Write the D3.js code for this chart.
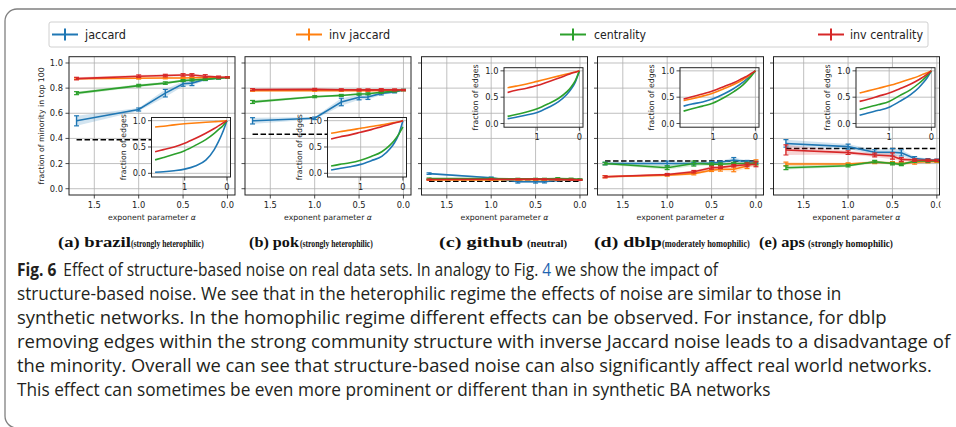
<!DOCTYPE html>
<html><head><meta charset="utf-8">
<script src="https://cdn.jsdelivr.net/npm/d3@7"></script>
<style>body{margin:0;background:#fff}svg{display:block}</style>
</head><body>
<script>
// ---------------- data ----------------
const seriesNames = ["jaccard", "inv jaccard", "centrality", "inv centrality"];
const seriesColors = ["#1f77b4", "#ff7f0e", "#2ca02c", "#d62728"];
const alphas = [1.7, 1.0, 0.7, 0.5, 0.4, 0.25, 0.1, 0.0];
const insetAlphas = [1.7, 1.5, 1.25, 1.0, 0.75, 0.5, 0.3, 0.2, 0.1, 0.0];
const xTicks = [1.5, 1.0, 0.5, 0.0];
const yTicks = [0.0, 0.2, 0.4, 0.6, 0.8, 1.0];
const insetXTicks = [1, 0];
const insetYTicks = [0.0, 0.5, 1.0];
const datasetNames = ["brazil", "pok", "github", "dblp", "aps"];
const datasetLabels = ["(a)", "(b)", "(c)", "(d)", "(e)"];
const datasetRegimes = ["(strongly heterophilic)", "(strongly heterophilic)", "(neutral)", "(moderately homophilic)", "(strongly homophilic)"];
const baselines = [0.39, 0.433, 0.06, 0.22, 0.32];

// main: fraction of minority in top 100 (jaccard, inv jaccard, centrality, inv centrality)
const brazilMain = [
  [0.54, 0.63, 0.76, 0.835, 0.84, 0.87, 0.88, 0.885],
  [0.875, 0.878, 0.88, 0.88, 0.882, 0.883, 0.884, 0.885],
  [0.76, 0.82, 0.84, 0.86, 0.865, 0.87, 0.878, 0.885],
  [0.876, 0.895, 0.90, 0.905, 0.905, 0.895, 0.888, 0.886]];
const brazilErr = [
  [0.04, 0.012, 0.03, 0.02, 0.02, 0.01, 0.008, 0.005],
  [0.006, 0.006, 0.006, 0.006, 0.006, 0.006, 0.005, 0.004],
  [0.012, 0.01, 0.01, 0.008, 0.008, 0.008, 0.006, 0.005],
  [0.01, 0.01, 0.01, 0.01, 0.01, 0.012, 0.008, 0.005]];
const pokMain = [
  [0.54, 0.56, 0.69, 0.727, 0.73, 0.758, 0.77, 0.785],
  [0.78, 0.78, 0.78, 0.78, 0.78, 0.781, 0.782, 0.783],
  [0.69, 0.732, 0.742, 0.753, 0.755, 0.767, 0.775, 0.785],
  [0.788, 0.79, 0.787, 0.786, 0.786, 0.786, 0.786, 0.785]];
const pokErr = [
  [0.025, 0.01, 0.03, 0.02, 0.02, 0.012, 0.008, 0.005],
  [0.005, 0.005, 0.005, 0.005, 0.005, 0.005, 0.005, 0.004],
  [0.012, 0.008, 0.008, 0.008, 0.008, 0.008, 0.006, 0.005],
  [0.008, 0.008, 0.008, 0.008, 0.008, 0.01, 0.008, 0.005]];
const githubMain = [
  [0.12, 0.087, 0.055, 0.055, 0.056, 0.068, 0.07, 0.07],
  [0.07, 0.07, 0.072, 0.072, 0.072, 0.072, 0.072, 0.07],
  [0.08, 0.08, 0.078, 0.078, 0.078, 0.08, 0.078, 0.075],
  [0.073, 0.075, 0.075, 0.076, 0.075, 0.074, 0.072, 0.07]];
const githubErr = [
  [0.006, 0.006, 0.01, 0.01, 0.01, 0.006, 0.005, 0.004],
  [0.004, 0.004, 0.004, 0.004, 0.004, 0.005, 0.004, 0.004],
  [0.005, 0.005, 0.005, 0.005, 0.005, 0.008, 0.006, 0.004],
  [0.004, 0.004, 0.004, 0.004, 0.004, 0.004, 0.004, 0.004]];
const dblpMain = [
  [0.20, 0.20, 0.20, 0.205, 0.21, 0.228, 0.215, 0.21],
  [0.095, 0.108, 0.12, 0.147, 0.155, 0.155, 0.18, 0.21],
  [0.2, 0.167, 0.2, 0.195, 0.195, 0.2, 0.2, 0.2],
  [0.095, 0.113, 0.135, 0.167, 0.17, 0.183, 0.19, 0.195]];
const dblpErr = [
  [0.01, 0.02, 0.01, 0.01, 0.01, 0.02, 0.01, 0.01],
  [0.008, 0.008, 0.01, 0.01, 0.015, 0.02, 0.02, 0.02],
  [0.01, 0.015, 0.02, 0.01, 0.01, 0.01, 0.01, 0.01],
  [0.008, 0.008, 0.01, 0.012, 0.01, 0.01, 0.015, 0.02]];
const apsMain = [
  [0.36, 0.335, 0.29, 0.29, 0.285, 0.24, 0.23, 0.228],
  [0.196, 0.196, 0.21, 0.205, 0.2, 0.21, 0.215, 0.215],
  [0.167, 0.183, 0.215, 0.2, 0.193, 0.22, 0.22, 0.22],
  [0.308, 0.287, 0.268, 0.26, 0.233, 0.228, 0.226, 0.225]];
const apsErr = [
  [0.03, 0.02, 0.02, 0.03, 0.025, 0.015, 0.01, 0.008],
  [0.015, 0.01, 0.01, 0.01, 0.01, 0.015, 0.01, 0.005],
  [0.015, 0.01, 0.01, 0.01, 0.01, 0.01, 0.01, 0.005],
  [0.04, 0.015, 0.015, 0.025, 0.015, 0.01, 0.01, 0.008]];

// insets: fraction of edges
const brazilInset = [
  [0.02, 0.03, 0.05, 0.08, 0.14, 0.25, 0.45, 0.6, 0.78, 1.0],
  [0.88, 0.895, 0.92, 0.94, 0.955, 0.97, 0.98, 0.985, 0.992, 1.0],
  [0.255, 0.3, 0.36, 0.43, 0.53, 0.64, 0.76, 0.83, 0.9, 1.0],
  [0.41, 0.45, 0.5, 0.57, 0.66, 0.76, 0.85, 0.9, 0.95, 1.0]];
const pokInset = [
  [0.063, 0.09, 0.125, 0.17, 0.24, 0.32, 0.47, 0.58, 0.74, 1.0],
  [0.76, 0.79, 0.82, 0.855, 0.89, 0.92, 0.95, 0.965, 0.98, 1.0],
  [0.14, 0.17, 0.2, 0.25, 0.32, 0.41, 0.54, 0.63, 0.74, 0.88],
  [0.65, 0.69, 0.73, 0.78, 0.83, 0.886, 0.93, 0.955, 0.975, 1.0]];
const githubInset = [
  [0.09, 0.12, 0.16, 0.21, 0.3, 0.41, 0.55, 0.65, 0.78, 1.0],
  [0.68, 0.71, 0.75, 0.8, 0.85, 0.9, 0.94, 0.96, 0.98, 1.0],
  [0.135, 0.17, 0.22, 0.28, 0.37, 0.475, 0.6, 0.69, 0.81, 1.0],
  [0.59, 0.63, 0.67, 0.72, 0.79, 0.86, 0.92, 0.95, 0.975, 1.0]];
const dblpInset = [
  [0.33, 0.37, 0.41, 0.47, 0.56, 0.67, 0.78, 0.85, 0.92, 1.0],
  [0.435, 0.47, 0.52, 0.58, 0.66, 0.745, 0.83, 0.88, 0.935, 1.0],
  [0.235, 0.28, 0.33, 0.39, 0.49, 0.61, 0.73, 0.81, 0.9, 1.0],
  [0.465, 0.51, 0.56, 0.62, 0.7, 0.78, 0.86, 0.9, 0.95, 1.0]];
const apsInset = [
  [0.155, 0.2, 0.25, 0.31, 0.42, 0.545, 0.68, 0.77, 0.87, 1.0],
  [0.58, 0.62, 0.67, 0.72, 0.78, 0.845, 0.9, 0.935, 0.965, 1.0],
  [0.267, 0.31, 0.36, 0.42, 0.53, 0.64, 0.76, 0.83, 0.91, 1.0],
  [0.42, 0.46, 0.52, 0.58, 0.66, 0.745, 0.83, 0.88, 0.94, 1.0]];

const mainData = [brazilMain, pokMain, githubMain, dblpMain, apsMain];
const errData = [brazilErr, pokErr, githubErr, dblpErr, apsErr];
const insetData = [brazilInset, pokInset, githubInset, dblpInset, apsInset];

const captionLines = [
  "structure-based noise. We see that in the heterophilic regime the effects of noise are similar to those in",
  "synthetic networks. In the homophilic regime different effects can be observed. For instance, for dblp",
  "removing edges within the strong community structure with inverse Jaccard noise leads to a disadvantage of",
  "the minority. Overall we can see that structure-based noise can also significantly affect real world networks.",
  "This effect can sometimes be even more prominent or different than in synthetic BA networks"];

// ---------------- layout ----------------
const W = 956, H = 427;
const svg = d3.select("body").append("svg").attr("width", W).attr("height", H)
  .attr("font-family", "DejaVu Sans, sans-serif");

function fit(sel, x, y, target) {
  const w = sel.node().getComputedTextLength();
  sel.attr("transform", `translate(${x},${y}) scale(${target / w},1)`);
}

// frame
svg.append("rect").attr("x", 5).attr("y", 9).attr("width", 1000).attr("height", 419)
  .attr("rx", 12).attr("fill", "none").attr("stroke", "#808080").attr("stroke-width", 1.3);

// legend
const leg = svg.append("g");
leg.append("rect").attr("x", 49).attr("y", 22).attr("width", 879).attr("height", 25).attr("rx", 2)
  .attr("fill", "#fff").attr("stroke", "#d0d0d0").attr("stroke-width", 1);
const legMarkX = [65, 309, 573, 831];
const legTextX = [85, 329, 594, 850];
const legTextW = [41, 61, 52, 73];
seriesNames.forEach((s, i) => {
  leg.append("line").attr("x1", legMarkX[i] - 13).attr("x2", legMarkX[i] + 13)
    .attr("y1", 34.5).attr("y2", 34.5).attr("stroke", seriesColors[i]).attr("stroke-width", 2);
  leg.append("line").attr("x1", legMarkX[i]).attr("x2", legMarkX[i])
    .attr("y1", 28.5).attr("y2", 40.5).attr("stroke", seriesColors[i]).attr("stroke-width", 2);
  const t = leg.append("text").attr("font-size", 12.5).attr("fill", "#222").text(s);
  fit(t, legTextX[i], 39, legTextW[i]);
});

// panels
const mainLeft = [69, 245, 421.5, 597.5, 773.5];
const xDomains = [[1.785, -0.085], [1.785, -0.085], [1.785, -0.085], [1.785, -0.085], [1.84, -0.03]];
const mainW = 166, mainTop = 56.7, mainBottom = 195;
const insetTop = [117.5, 117.5, 67.7, 67.7, 67.7];
const insetH = 59.5, insetW = 79, insetOff = 82.5;
const fs = 8.3;

const defs = svg.append("defs");
defs.append("clipPath").attr("id", "clip5").append("rect")
  .attr("x", 0).attr("y", 0).attr("width", 940.5).attr("height", H);

datasetNames.forEach((name, p) => {
  const g = svg.append("g");
  if (p === 4) g.attr("clip-path", "url(#clip5)");
  const L = mainLeft[p];
  const x = d3.scaleLinear().domain(xDomains[p]).range([L, L + mainW]);
  const y = d3.scaleLinear().domain([-0.05, 1.05]).range([mainBottom, mainTop]);

  // grid
  g.selectAll(null).data(xTicks).join("line")
    .attr("x1", d => x(d)).attr("x2", d => x(d)).attr("y1", mainTop).attr("y2", mainBottom)
    .attr("stroke", "#b0b0b0").attr("stroke-width", 0.8);
  g.selectAll(null).data(yTicks).join("line")
    .attr("x1", L).attr("x2", L + mainW).attr("y1", d => y(d)).attr("y2", d => y(d))
    .attr("stroke", "#b0b0b0").attr("stroke-width", 0.8);

  // baseline dashed
  g.append("line").attr("x1", x(1.7)).attr("x2", x(0)).attr("y1", y(baselines[p])).attr("y2", y(baselines[p]))
    .attr("stroke", "#000").attr("stroke-width", 1.5).attr("stroke-dasharray", "5.5,2.5");

  // series
  const lineGen = d3.line().x((d, i) => x(alphas[i])).y(d => y(d));
  mainData[p].forEach((vals, s) => {
    const er = errData[p][s];
    const area = d3.area().x((d, i) => x(alphas[i])).y0((d, i) => y(d - er[i])).y1((d, i) => y(d + er[i]));
    g.append("path").attr("d", area(vals)).attr("fill", seriesColors[s]).attr("opacity", 0.2);
    g.append("path").attr("d", lineGen(vals)).attr("fill", "none")
      .attr("stroke", seriesColors[s]).attr("stroke-width", 1.6);
    vals.forEach((v, i) => {
      const cx = x(alphas[i]);
      g.append("line").attr("x1", cx).attr("x2", cx).attr("y1", y(v - er[i])).attr("y2", y(v + er[i]))
        .attr("stroke", seriesColors[s]).attr("stroke-width", 1.4);
      [v - er[i], v + er[i]].forEach(e => g.append("line").attr("x1", cx - 2.5).attr("x2", cx + 2.5)
        .attr("y1", y(e)).attr("y2", y(e)).attr("stroke", seriesColors[s]).attr("stroke-width", 1.2));
    });
  });

  // spines
  g.append("rect").attr("x", L).attr("y", mainTop).attr("width", mainW).attr("height", mainBottom - mainTop)
    .attr("fill", "none").attr("stroke", "#222").attr("stroke-width", 1);

  // ticks
  g.selectAll(null).data(xTicks).join("line")
    .attr("x1", d => x(d)).attr("x2", d => x(d)).attr("y1", mainBottom).attr("y2", mainBottom + 3.5)
    .attr("stroke", "#222").attr("stroke-width", 0.8);
  g.selectAll(null).data(xTicks).join("text")
    .attr("x", d => x(d)).attr("y", mainBottom + 13).attr("text-anchor", "middle")
    .attr("font-size", fs).attr("fill", "#222").text(d => d.toFixed(1));
  g.selectAll(null).data(yTicks).join("line")
    .attr("x1", L - 3.5).attr("x2", L).attr("y1", d => y(d)).attr("y2", d => y(d))
    .attr("stroke", "#222").attr("stroke-width", 0.8);
  if (p === 0) {
    g.selectAll(null).data(yTicks).join("text")
      .attr("x", L - 6).attr("y", d => y(d) + 3).attr("text-anchor", "end")
      .attr("font-size", fs).attr("fill", "#222").text(d => d.toFixed(1));
    g.append("text").attr("transform", `translate(44,${(mainTop + mainBottom) / 2}) rotate(-90)`)
      .attr("text-anchor", "middle").attr("font-size", 7.8).attr("fill", "#222")
      .text("fraction of minority in top 100");
  }
  const xl = g.append("text").attr("x", L + mainW / 2).attr("y", mainBottom + 25)
    .attr("text-anchor", "middle").attr("font-size", 7.8).attr("fill", "#222");
  xl.append("tspan").text("exponent parameter ");
  xl.append("tspan").attr("font-style", "italic").text("α");

  // inset
  const IL = L + insetOff, IT = insetTop[p];
  const ix = d3.scaleLinear().domain([1.785, -0.085]).range([IL, IL + insetW]);
  const iy = d3.scaleLinear().domain([-0.07, 1.06]).range([IT + insetH, IT]);
  g.append("rect").attr("x", IL).attr("y", IT).attr("width", insetW).attr("height", insetH).attr("fill", "#fff");
  g.selectAll(null).data(insetXTicks).join("line")
    .attr("x1", d => ix(d)).attr("x2", d => ix(d)).attr("y1", IT).attr("y2", IT + insetH)
    .attr("stroke", "#b0b0b0").attr("stroke-width", 0.8);
  g.selectAll(null).data(insetYTicks).join("line")
    .attr("x1", IL).attr("x2", IL + insetW).attr("y1", d => iy(d)).attr("y2", d => iy(d))
    .attr("stroke", "#b0b0b0").attr("stroke-width", 0.8);
  const iline = d3.line().x((d, i) => ix(insetAlphas[i])).y(d => iy(d)).curve(d3.curveMonotoneX);
  insetData[p].forEach((vals, s) => {
    g.append("path").attr("d", iline(vals)).attr("fill", "none")
      .attr("stroke", seriesColors[s]).attr("stroke-width", 1.6);
  });
  g.append("rect").attr("x", IL).attr("y", IT).attr("width", insetW).attr("height", insetH)
    .attr("fill", "none").attr("stroke", "#222").attr("stroke-width", 1);
  g.selectAll(null).data(insetXTicks).join("line")
    .attr("x1", d => ix(d)).attr("x2", d => ix(d)).attr("y1", IT + insetH).attr("y2", IT + insetH + 3.5)
    .attr("stroke", "#222").attr("stroke-width", 0.8);
  g.selectAll(null).data(insetXTicks).join("text")
    .attr("x", d => ix(d)).attr("y", IT + insetH + 13).attr("text-anchor", "middle")
    .attr("font-size", fs).attr("fill", "#222").text(d => d);
  g.selectAll(null).data(insetYTicks).join("line")
    .attr("x1", IL - 3.5).attr("x2", IL).attr("y1", d => iy(d)).attr("y2", d => iy(d))
    .attr("stroke", "#222").attr("stroke-width", 0.8);
  g.selectAll(null).data(insetYTicks).join("text")
    .attr("x", IL - 5.5).attr("y", d => iy(d) + 3).attr("text-anchor", "end")
    .attr("font-size", fs).attr("fill", "#222").text(d => d.toFixed(1));
  g.append("text").attr("transform", `translate(${IL - 26},${IT + insetH / 2}) rotate(-90)`)
    .attr("text-anchor", "middle").attr("font-size", 7.8).attr("fill", "#222").text("fraction of edges");
});

// subcaptions
const subX = [58, 249, 439, 594, 759];
const subW = [73, 50, 84, 68, 46];
const subSmallX = [131, 300, 527, 662, 808];
const subSmallW = [73, 73, 40, 88, 85];
datasetNames.forEach((name, p) => {
  const t = svg.append("text").attr("font-family", "Liberation Serif, serif").attr("font-weight", "bold")
    .attr("font-size", 15.5).attr("fill", "#111").text(datasetLabels[p] + " " + name);
  fit(t, subX[p], 246.5, subW[p]);
  const s = svg.append("text").attr("font-family", "Liberation Serif, serif").attr("font-weight", "bold")
    .attr("font-size", 9.5).attr("fill", "#111").text(datasetRegimes[p]);
  fit(s, subSmallX[p], 246.5, subSmallW[p]);
});

// caption
const capFont = "Open Sans, Noto Sans, sans-serif";
const capBase = 276, capStep = 24;
const capEnds = [712, 842, 887, 951, 932, 771];
const capSize = 18;
const l1 = svg.append("text").attr("font-family", capFont).attr("font-size", capSize).attr("fill", "#231f20");
l1.append("tspan").attr("font-weight", "bold").text("Fig. 6");
l1.append("tspan").attr("dx", 8).text("Effect of structure-based noise on real data sets. In analogy to Fig. ");
l1.append("tspan").attr("fill", "#1f64b0").text("4");
l1.append("tspan").text(" we show the impact of");
fit(l1, 17, capBase, capEnds[0] - 17);
captionLines.forEach((ln, i) => {
  const t = svg.append("text").attr("font-family", capFont).attr("font-size", capSize).attr("fill", "#231f20").text(ln);
  fit(t, 17, capBase + capStep * (i + 1), capEnds[i + 1] - 17);
});
</script>
</body></html>
